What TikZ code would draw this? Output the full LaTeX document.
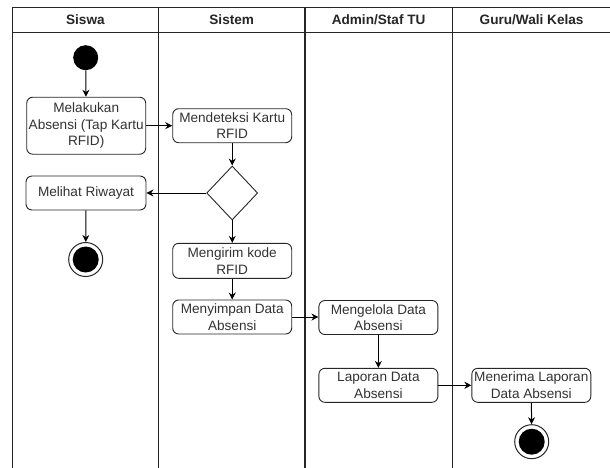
\documentclass[tikz,border=0pt]{standalone}
\usepackage{fontspec}
\setmainfont{Liberation Sans}
\usetikzlibrary{arrows.meta}
\usetikzlibrary{shapes.geometric}
\tikzset{   act/.style = {rectangle, rounded corners = 6pt, draw = black!85, line width = 0.9pt, fill = white, align = center, inner sep = 0pt, minimum width = 119pt, minimum height = 34pt, text = black!80, font = \fontsize{13.6}{16.7}\selectfont},
            lane/.style = {draw = black!85, line width = 1.3pt},
            head/.style = {font = \fontsize{13.6}{16}\selectfont\bfseries, text = black!85},
            flow/.style = {-{Stealth[length = 7pt, width = 7pt]}, line width = 1pt, draw = black},
            startnode/.style = {circle, fill = black, minimum size = 25pt, inner sep = 0pt},
            endnode/.style = {circle, draw = black!85, line width = 1pt, fill = white, minimum size = 34pt, inner sep = 0pt,
                              path picture = {\fill[black] (path picture bounding box.center) circle (13pt);}},
            decision/.style = {diamond, draw = black!85, line width = 0.9pt, fill = white, minimum width = 51pt, minimum height = 54pt, inner sep = 0pt}}

\begin{document}
\begin{tikzpicture}[x = 1pt, y = -1pt]
                        \clip (0, 0) rectangle (610, 467);
                        \draw[lane] (12.3, 480) -- (12.3, 7.5) -- (620, 7.5);
                        \draw[lane] (12.3, 32.7) -- (620, 32.7);
                        \draw[lane] (158.5, 7.5) -- (158.5, 480);
                        \draw[lane] (305, 7.5) -- (305, 480);
                        \draw[lane] (452.3, 7.5) -- (452.3, 480);
                        \draw[lane] (611, 7.5) -- (611, 480);
                        \node[head] (h1) at (85.4, 20) {Siswa};
                        \node[head] (h2) at (231.7, 20) {Sistem};
                        \node[head] (h3) at (378.6, 20) {Admin/Staf TU};
                        \node[head] (h4) at (531.6, 20) {Guru/Wali Kelas};

                        \node[startnode] (start) at (85.7, 57.7) {};
                        \node[act, minimum height = 57pt] (tap) at (86.2, 125.7) {Melakukan\\Absensi (Tap Kartu\\RFID)};
                        \node[act] (detect) at (232.2, 125.7) {Mendeteksi Kartu\\RFID};
                        \node[decision] (check) at (232.2, 193) {};
                        \node[act, minimum width = 120pt] (history) at (86, 193) {Melihat Riwayat};
                        \node[endnode] (end1) at (85.7, 259.5) {};
                        \node[act, minimum height = 35pt] (send) at (232.2, 260.8) {Mengirim kode\\RFID};
                        \node[act] (save) at (232.2, 317) {Menyimpan Data\\Absensi};
                        \node[act] (manage) at (378.4, 317.5) {Mengelola Data\\Absensi};
                        \node[act] (report) at (378.4, 385.3) {Laporan Data\\Absensi};
                        \node[act] (receive) at (531.3, 385.3) {Menerima Laporan\\Data Absensi};
                        \node[endnode] (end2) at (531.7, 441.7) {};

                        \draw[flow] (start) -- (tap);
                        \draw[flow] (tap.east |- detect.west) -- (detect.west);
                        \draw[flow] (detect) -- (check);
                        \draw[flow] (check) -- (history);
                        \draw[flow] (history) -- (end1);
                        \draw[flow] (check) -- (send);
                        \draw[flow] (send) -- (save);
                        \draw[flow] (save.east) -- (save.east -| manage.west);
                        \draw[flow] (manage) -- (report);
                        \draw[flow] (report) -- (receive);
                        \draw[flow] (receive) -- (end2);
                      \end{tikzpicture}
\end{document}
